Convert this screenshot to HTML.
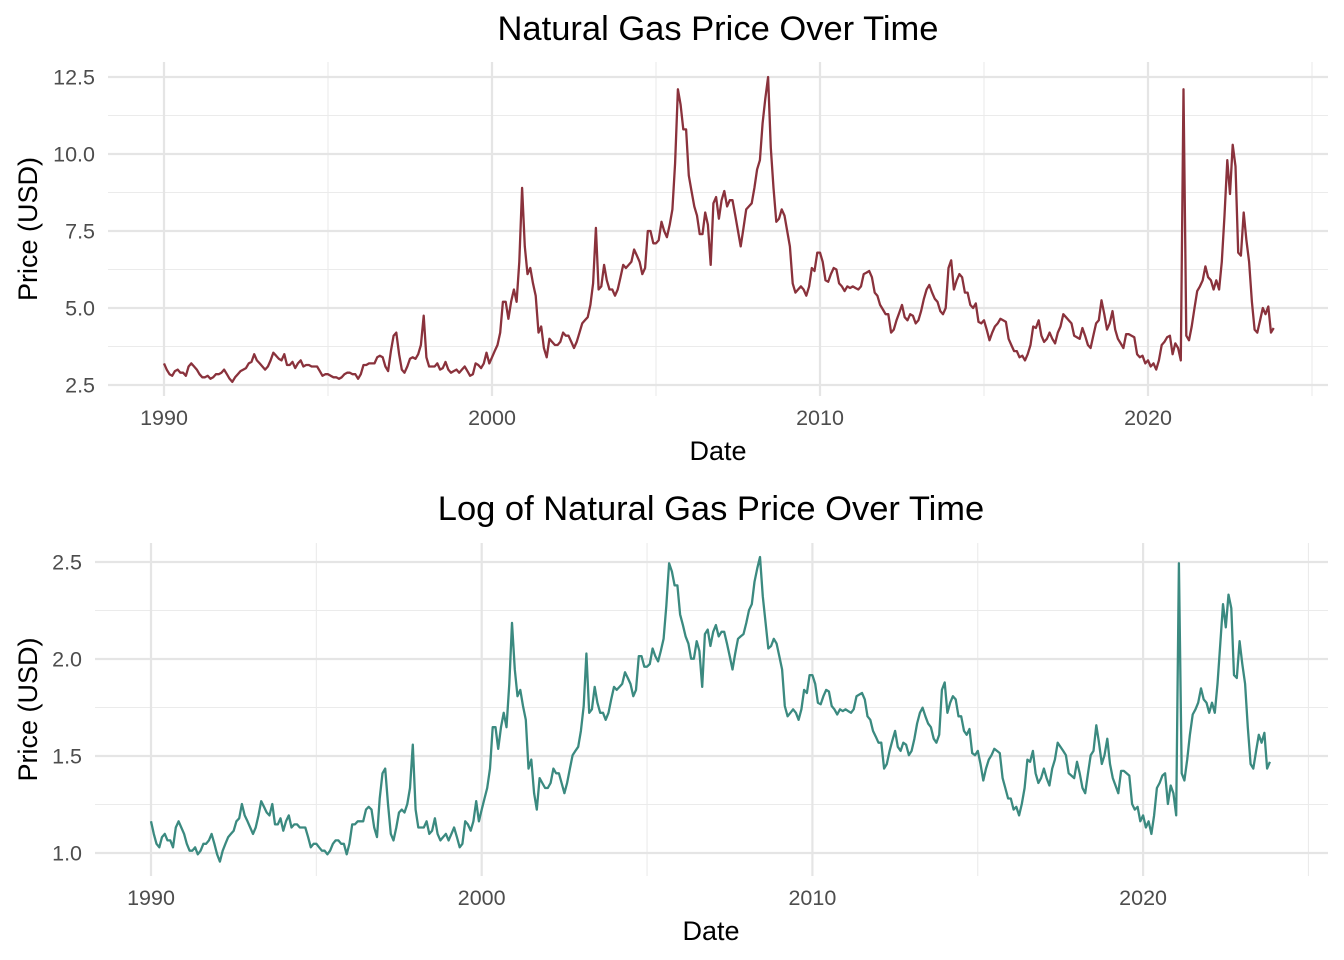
<!DOCTYPE html>
<html><head><meta charset="utf-8"><style>
html,body{margin:0;padding:0;background:#fff;}
svg{display:block;font-family:"Liberation Sans",Arial,sans-serif;}
</style></head><body>
<svg id="chart" width="1344" height="960"></svg>
<script>
const startYear = 1990;
const priceValues = [
3.2,3.0,2.85,2.8,2.95,3.0,2.9,2.9,2.8,3.1,3.2,3.1,
3.0,2.85,2.75,2.75,2.8,2.7,2.75,2.85,2.85,2.9,3.0,2.85,
2.7,2.6,2.75,2.85,2.95,3.0,3.05,3.2,3.25,3.5,3.3,3.2,
3.1,3.0,3.1,3.3,3.55,3.45,3.35,3.3,3.5,3.15,3.15,3.25,
3.05,3.2,3.3,3.1,3.15,3.15,3.1,3.1,3.1,2.95,2.8,2.85,
2.85,2.8,2.75,2.75,2.7,2.75,2.85,2.9,2.9,2.85,2.85,2.7,
2.85,3.15,3.15,3.2,3.2,3.2,3.4,3.45,3.4,3.1,2.95,3.6,
4.1,4.2,3.5,3.0,2.9,3.1,3.35,3.4,3.35,3.5,3.8,4.75,
3.4,3.1,3.1,3.1,3.2,3.0,3.05,3.25,3.0,2.9,2.95,3.0,
2.9,3.0,3.1,2.95,2.8,2.85,3.2,3.15,3.05,3.2,3.55,3.2,
3.4,3.6,3.8,4.2,5.2,5.2,4.65,5.2,5.6,5.2,6.5,8.9,
7.0,6.1,6.3,5.8,5.4,4.2,4.4,3.7,3.4,4.0,3.9,3.8,
3.8,3.9,4.2,4.1,4.1,3.9,3.7,3.9,4.2,4.5,4.6,4.7,
5.1,5.8,7.6,5.6,5.7,6.4,5.9,5.6,5.6,5.4,5.6,6.0,
6.4,6.3,6.4,6.5,6.9,6.7,6.5,6.1,6.3,7.5,7.5,7.1,
7.1,7.2,7.8,7.5,7.3,7.7,8.2,9.7,12.1,11.6,10.8,10.8,
9.3,8.8,8.3,8.0,7.4,7.4,8.1,7.7,6.4,8.4,8.6,7.9,
8.5,8.8,8.3,8.5,8.5,8.0,7.5,7.0,7.6,8.2,8.3,8.4,
8.9,9.5,9.8,11.0,11.8,12.5,10.2,8.9,7.8,7.9,8.2,8.0,
7.5,7.0,5.8,5.5,5.6,5.7,5.6,5.4,5.7,6.3,6.2,6.8,
6.8,6.5,5.9,5.85,6.1,6.3,6.25,5.8,5.7,5.55,5.7,5.65,
5.7,5.65,5.6,5.7,6.1,6.15,6.2,6.0,5.5,5.4,5.1,4.95,
4.8,4.8,4.2,4.3,4.6,4.85,5.1,4.7,4.6,4.8,4.75,4.5,
4.6,4.9,5.3,5.6,5.75,5.5,5.3,5.2,4.9,4.8,5.0,6.3,
6.55,5.6,5.9,6.1,6.0,5.5,5.5,5.1,5.0,5.15,4.55,4.5,
4.6,4.3,3.95,4.2,4.4,4.5,4.65,4.6,4.55,4.0,3.8,3.6,
3.6,3.4,3.45,3.3,3.5,3.8,4.4,4.35,4.6,4.1,3.9,4.0,
4.2,4.0,3.85,4.2,4.4,4.8,4.7,4.6,4.5,4.1,4.05,4.0,
4.35,4.1,3.8,3.7,4.1,4.5,4.6,5.25,4.8,4.3,4.5,4.9,
4.3,4.0,3.85,3.7,4.15,4.15,4.1,4.05,3.5,3.4,3.45,3.2,
3.3,3.1,3.2,3.0,3.3,3.8,3.9,4.05,4.1,3.5,3.85,3.7,
3.3,12.1,4.1,3.95,4.4,5.0,5.55,5.7,5.9,6.35,6.0,5.9,
5.6,5.9,5.6,6.5,8.0,9.8,8.7,10.3,9.6,6.8,6.7,8.1,
7.2,6.5,5.2,4.3,4.2,4.6,5.0,4.8,5.05,4.2,4.35
];
const logValues = priceValues.map(Math.log);
const xTickYears = [1990, 2000, 2010, 2020];
const xMinorYears = [1995, 2005, 2015, 2025];
const topTicks = [2.5, 5.0, 7.5, 10.0, 12.5];
const topTickLabels = ["2.5","5.0","7.5","10.0","12.5"];
const botTicks = [1.0, 1.5, 2.0, 2.5];
const botTickLabels = ["1.0","1.5","2.0","2.5"];

const NS = "http://www.w3.org/2000/svg";
const svg = document.getElementById('chart');
function mk(tag, attrs, parent) {
  const e = document.createElementNS(NS, tag);
  for (const k in attrs) e.setAttribute(k, attrs[k]);
  (parent || svg).appendChild(e);
  return e;
}

function panel(cfg) {
  const g = mk('g', {});
  
  
  const xs = yr => cfg.x0 + (yr - 1990) * cfg.pxYear;
  const ys = v => cfg.yA + (v - cfg.vA) * (cfg.yB - cfg.yA) / (cfg.vB - cfg.vA);
  for (let i = 0; i < cfg.ticks.length - 1; i++) {
    const m = (cfg.ticks[i] + cfg.ticks[i + 1]) / 2;
    const l = mk('line', {x1: cfg.left, x2: cfg.right, y1: ys(m), y2: ys(m), stroke: '#ebebeb', 'stroke-width': 1.1}, g);
    
    
  }
  xMinorYears.forEach(y => {
    const l = mk('line', {x1: xs(y), x2: xs(y), y1: cfg.top, y2: cfg.bottom, stroke: '#ebebeb', 'stroke-width': 1.1}, g);
    
    
  });
  cfg.ticks.forEach((t, i) => {
    const l = mk('line', {x1: cfg.left, x2: cfg.right, y1: ys(t), y2: ys(t), stroke: '#e5e5e5', 'stroke-width': 2.2}, g);
    
    
    const tx = mk('text', {x: cfg.left - 13, y: ys(t) + 7.5, 'text-anchor': 'end', 'font-size': 21.5, fill: '#4d4d4d'}, g);
    tx.textContent = cfg.labels[i];
    
    
  });
  xTickYears.forEach(y => {
    const l = mk('line', {x1: xs(y), x2: xs(y), y1: cfg.top, y2: cfg.bottom, stroke: '#e5e5e5', 'stroke-width': 2.2}, g);
    
    
    const tx = mk('text', {x: xs(y), y: cfg.bottom + 29, 'text-anchor': 'middle', 'font-size': 21.5, fill: '#4d4d4d'}, g);
    tx.textContent = String(y);
    
    
  });
  const pts = cfg.values.map((v, i) => xs(startYear + i / 12).toFixed(1) + ',' + ys(v).toFixed(1)).join(' ');
  const pl = mk('polyline', {points: pts, fill: 'none', stroke: cfg.color, 'stroke-width': 2.3, 'stroke-linejoin': 'round'}, g);
  
  
  const t = mk('text', {x: cfg.titleX, y: cfg.titleY, 'text-anchor': 'middle', 'font-size': 34.5, fill: '#000'}, g);
  t.textContent = cfg.title;
  
  
  const xl = mk('text', {x: cfg.titleX, y: cfg.xLabelY, 'text-anchor': 'middle', 'font-size': 27, fill: '#000'}, g);
  xl.textContent = 'Date';
  
  
  const cy = (cfg.top + cfg.bottom) / 2;
  const yl = mk('text', {x: 0, y: 0, transform: `translate(37,${cy}) rotate(-90)`, 'text-anchor': 'middle', 'font-size': 27, fill: '#000'}, g);
  yl.textContent = 'Price (USD)';
  
  
}

panel({name: 'price-panel', values: priceValues, ticks: topTicks, labels: topTickLabels,
  x0: 164, pxYear: 32.8, vA: 2.5, yA: 385, vB: 12.5, yB: 77,
  left: 108, right: 1328, top: 62, bottom: 396, color: '#8a323c',
  title: 'Natural Gas Price Over Time', titleX: 718, titleY: 40, xLabelY: 460});
panel({name: 'log-price-panel', values: logValues, ticks: botTicks, labels: botTickLabels,
  x0: 151, pxYear: 33.07, vA: 1.0, yA: 853, vB: 2.5, yB: 562,
  left: 95, right: 1328, top: 543, bottom: 876, color: '#3b8a80',
  title: 'Log of Natural Gas Price Over Time', titleX: 711, titleY: 520, xLabelY: 940});
</script>
</body></html>
